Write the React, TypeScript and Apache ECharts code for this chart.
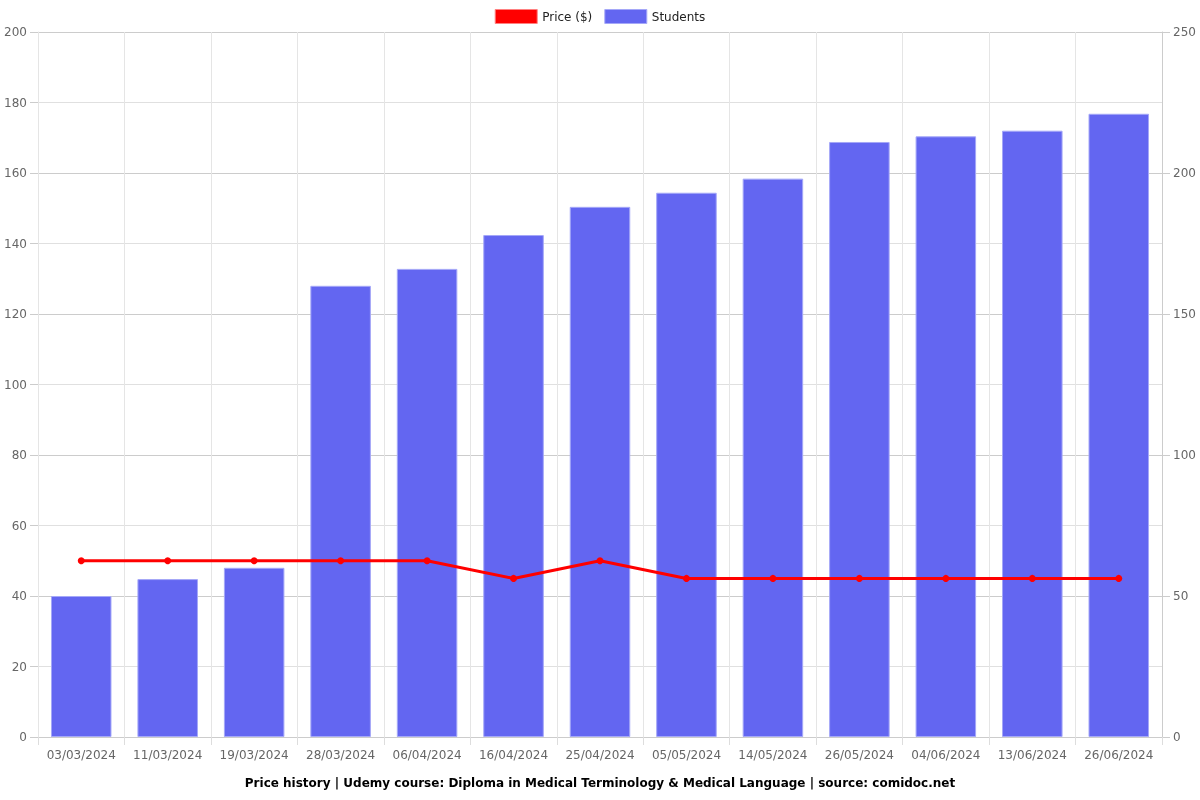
import React, { useEffect, useRef } from "react";
import * as echarts from "echarts";

const dates = ["03/03/2024","11/03/2024","19/03/2024","28/03/2024","06/04/2024","16/04/2024","25/04/2024","05/05/2024","14/05/2024","26/05/2024","04/06/2024","13/06/2024","26/06/2024"];
const price = [49.99,49.99,49.99,49.99,49.99,44.99,49.99,44.99,44.99,44.99,44.99,44.99,44.99];
const students = [50,56,60,160,166,178,188,193,198,211,213,215,221];

export default function App() {
  const ref = useRef<HTMLDivElement>(null);
  useEffect(() => {
    const chart = echarts.init(ref.current!, null, { renderer: "svg" });
    const font = "DejaVu Sans";
    chart.setOption({
      animation: false,
      textStyle: { fontFamily: font },
      legend: {
        top: 4, left: "center", itemWidth: 42, itemHeight: 14, itemGap: 12, icon: "rect",
        textStyle: { fontFamily: font, fontSize: 12, color: "#222" },
        data: [
          { name: "Price ($)", itemStyle: { color: "#ff0000", borderColor: "#ff8080", borderWidth: 1 } },
          { name: "Students", itemStyle: { color: "#6366f1", borderColor: "#a5a8f8", borderWidth: 1 } },
        ],
      },
      title: {
        text: "Price history | Udemy course: Diploma in Medical Terminology & Medical Language | source: comidoc.net",
        top: 772, left: "center",
        textStyle: { fontFamily: font, fontSize: 12, fontWeight: "bold", color: "#000" },
      },
      grid: { left: 38, right: 38, top: 32, bottom: 63 },
      xAxis: {
        type: "category", data: dates,
        axisLine: { lineStyle: { color: "#ccc" } },
        axisTick: { show: true, length: 8, lineStyle: { color: "#ddd" } },
        axisLabel: { color: "#666", fontSize: 12, fontFamily: font, margin: 12, interval: 0 },
        splitLine: { show: true, lineStyle: { color: "#e5e5e5" } },
      },
      yAxis: [
        {
          type: "value", min: 0, max: 200, interval: 20,
          axisLine: { show: true, lineStyle: { color: "#e5e5e5", width: 1 } },
          axisTick: { show: true, length: 8, lineStyle: { color: "#ccc" } },
          axisLabel: { color: "#666", fontSize: 12, fontFamily: font, margin: 11 },
          splitLine: { lineStyle: { color: "#e0e0e0" } },
        },
        {
          type: "value", min: 0, max: 250, interval: 50,
          axisLine: { show: true, lineStyle: { color: "#ccc" } },
          axisTick: { show: true, length: 8, lineStyle: { color: "#ccc" } },
          axisLabel: { color: "#666", fontSize: 12, fontFamily: font, margin: 11 },
          splitLine: { lineStyle: { color: "#ccc" } },
        },
      ],
      series: [
        {
          name: "Students", type: "bar", yAxisIndex: 1, data: students, barWidth: "70%",
          itemStyle: { color: "#6366f1", borderColor: "#a5a8f8", borderWidth: 1 },
          z: 1,
        },
        {
          name: "Price ($)", type: "line", yAxisIndex: 0, data: price,
          symbol: "circle", symbolSize: 7,
          lineStyle: { color: "#ff0000", width: 3 },
          itemStyle: { color: "#ff0000" },
          z: 3,
        },
      ],
    });
    return () => chart.dispose();
  }, []);
  return <div ref={ref} style={{ position: "fixed", left: 0, top: 0, width: 1200, height: 800 }} />;
}
